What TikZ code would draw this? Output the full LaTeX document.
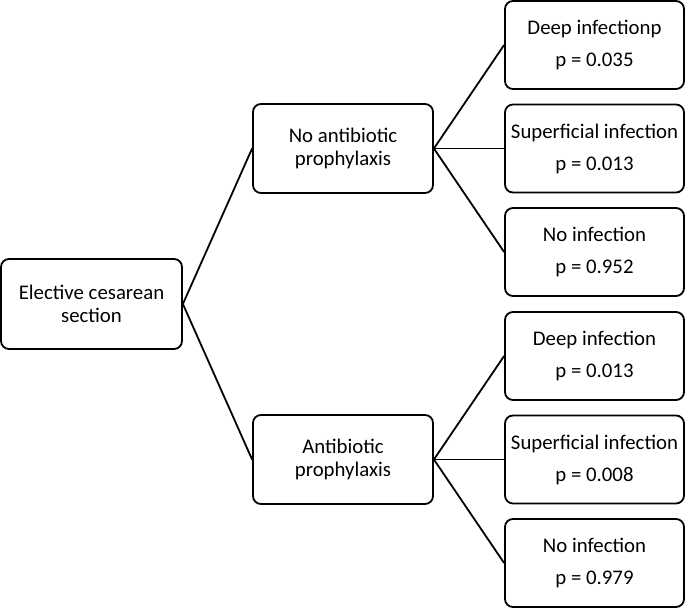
\documentclass[tikz,border=0pt]{standalone}
\usepackage{fontspec}
\setmainfont{Carlito}
\begin{document}
\begin{tikzpicture}[x=1pt,y=-1pt,
  box/.style={draw=black,line width=1.8pt,rounded corners=8pt,rectangle,inner sep=0pt,align=center,
    font=\fontsize{20.8}{23}\selectfont},
  rootbox/.style={box,minimum width=181pt,minimum height=90pt},
  midbox/.style={box,minimum width=180pt,minimum height=89pt},
  leafbox/.style={box,minimum width=179pt,minimum height=88pt},
  link/.style={line width=1.8pt}]
\useasboundingbox (0,0) rectangle (685,609);
\node[rootbox] (root) at (91.5,304) {Elective cesarean\\section};
\node[midbox] (m1) at (343,148.5) {No antibiotic\\prophylaxis};
\node[midbox] (m2) at (343,459.5) {Antibiotic\\prophylaxis};
\node[leafbox] (l1) at (594.5,45) {Deep infectionp\\[9pt]p = 0.035};
\node[leafbox] (l2) at (594.5,148.5) {Superficial infection\\[9pt]p = 0.013};
\node[leafbox] (l3) at (594.5,252) {No infection\\[9pt]p = 0.952};
\node[leafbox] (l4) at (594.5,356) {Deep infection\\[9pt]p = 0.013};
\node[leafbox] (l5) at (594.5,459.5) {Superficial infection\\[9pt]p = 0.008};
\node[leafbox] (l6) at (594.5,563) {No infection\\[9pt]p = 0.979};
\draw[link] (root.east) -- (m1.west);
\draw[link] (root.east) -- (m2.west);
\foreach \l in {l1,l2,l3} \draw[link] (m1.east) -- (\l.west);
\foreach \l in {l4,l5,l6} \draw[link] (m2.east) -- (\l.west);
\end{tikzpicture}
\end{document}
